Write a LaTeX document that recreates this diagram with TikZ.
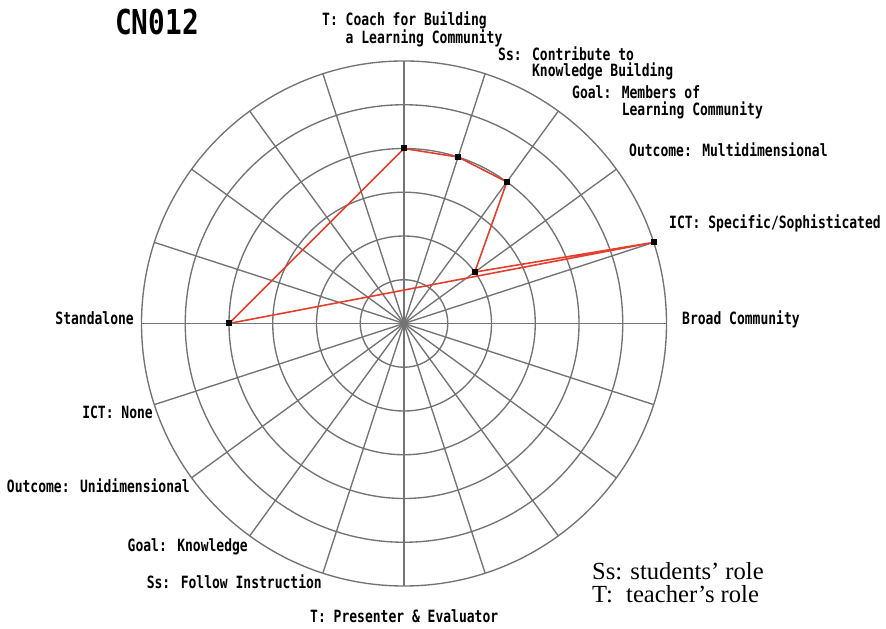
\documentclass[tikz,border=0pt]{standalone}
\usepackage{fontspec}
\usetikzlibrary{calc}
\newfontfamily\lblfont[FakeStretch=0.77]{DejaVu Sans Mono}
\newfontfamily\ttlfont[FakeStretch=0.81]{DejaVu Sans Mono}
\newfontfamily\lgdfont{Liberation Serif}
\definecolor{gridgray}{RGB}{115,115,115}
\definecolor{datared}{RGB}{228,62,45}
\begin{document}
\begin{tikzpicture}[x=1pt,y=1pt,
  gridline/.style={draw=gridgray,line width=1.35pt},
  dataline/.style={draw=datared,line width=1.6pt,line join=round},
  datamark/.style={fill=black,draw=none,minimum size=6pt,inner sep=0pt,rectangle},
  lbl/.style={font=\lblfont\bfseries\fontsize{16.9}{16.5}\selectfont,inner sep=0pt,align=left},
  ttl/.style={font=\ttlfont\bfseries\fontsize{34.3}{36}\selectfont,inner sep=0pt},
  lgd/.style={font=\lgdfont\fontsize{24.6}{22.3}\selectfont,inner sep=0pt,align=left}]
\useasboundingbox (0,0) rectangle (886,629);
\fill[white] (0,0) rectangle (886,629);
\def\u{43.75}
\coordinate (O) at (404,305.5);
% grid circles
\foreach \k in {1,...,6}{
  \draw[gridline] (O) circle[radius=\k*\u];
}
% spokes
\foreach \a in {0,18,...,342}{
  \draw[gridline] (O) -- ++(\a:6*\u);
}
% data points
\node[datamark] (pT)  at ($(O)+(90:4*\u)$) {};
\node[datamark] (pSs) at ($(O)+(72:4*\u)$) {};
\node[datamark] (pG)  at ($(O)+(54:4*\u)$) {};
\node[datamark] (pO)  at ($(O)+(36:2*\u)$) {};
\node[datamark] (pI)  at ($(O)+(18:6*\u)$) {};
\node[datamark] (pSt) at ($(O)+(180:4*\u)$) {};
\draw[dataline] (pT.center) -- (pSs.center) -- (pG.center) -- (pO.center) -- (pI.center) -- (pSt.center) -- cycle;
\foreach \p in {pT,pSs,pG,pO,pI,pSt}{
  \fill[black] ($(\p.center)+(-3,-3)$) rectangle ($(\p.center)+(3,3)$);
}
% labels
\node[lbl,anchor=base west] (lT) at (322,585.5) {T: Coach for Building\\\phantom{T: }a Learning Community};
\node[lbl,anchor=base west] (lSs) at (498,552) {Ss: Contribute to\\\phantom{Ss: }Knowledge Building};
\node[lbl,anchor=base west] (lG) at (572,513.5) {Goal: Members of\\\phantom{Goal: }Learning Community};
\node[lbl,anchor=base west] (lO) at (629,472.5) {Outcome: Multidimensional};
\node[lbl,anchor=base west] (lI) at (669,400) {ICT: Specific/Sophisticated};
\node[lbl,anchor=base west] (lB) at (682,304) {Broad Community};
\node[lbl,anchor=base east] (lSt) at (134,304) {Standalone};
\node[lbl,anchor=base east] (lIN) at (153,210) {ICT: None};
\node[lbl,anchor=base east] (lOU) at (190,136.3) {Outcome: Unidimensional};
\node[lbl,anchor=base east] (lGK) at (248,77) {Goal: Knowledge};
\node[lbl,anchor=base east] (lSF) at (322,40) {Ss: Follow Instruction};
\node[lbl,anchor=base west] (lTP) at (310,6) {T: Presenter \& Evaluator};
\node[ttl,anchor=base west] (title) at (115,594) {CN012};
\node[lgd,anchor=base west] (lg1) at (592,49) {Ss: students’ role};
\node[lgd,anchor=base west] (lg2) at (592,26.7) {T:\hspace{13.4pt}teacher’s role};
\end{tikzpicture}
\end{document}
